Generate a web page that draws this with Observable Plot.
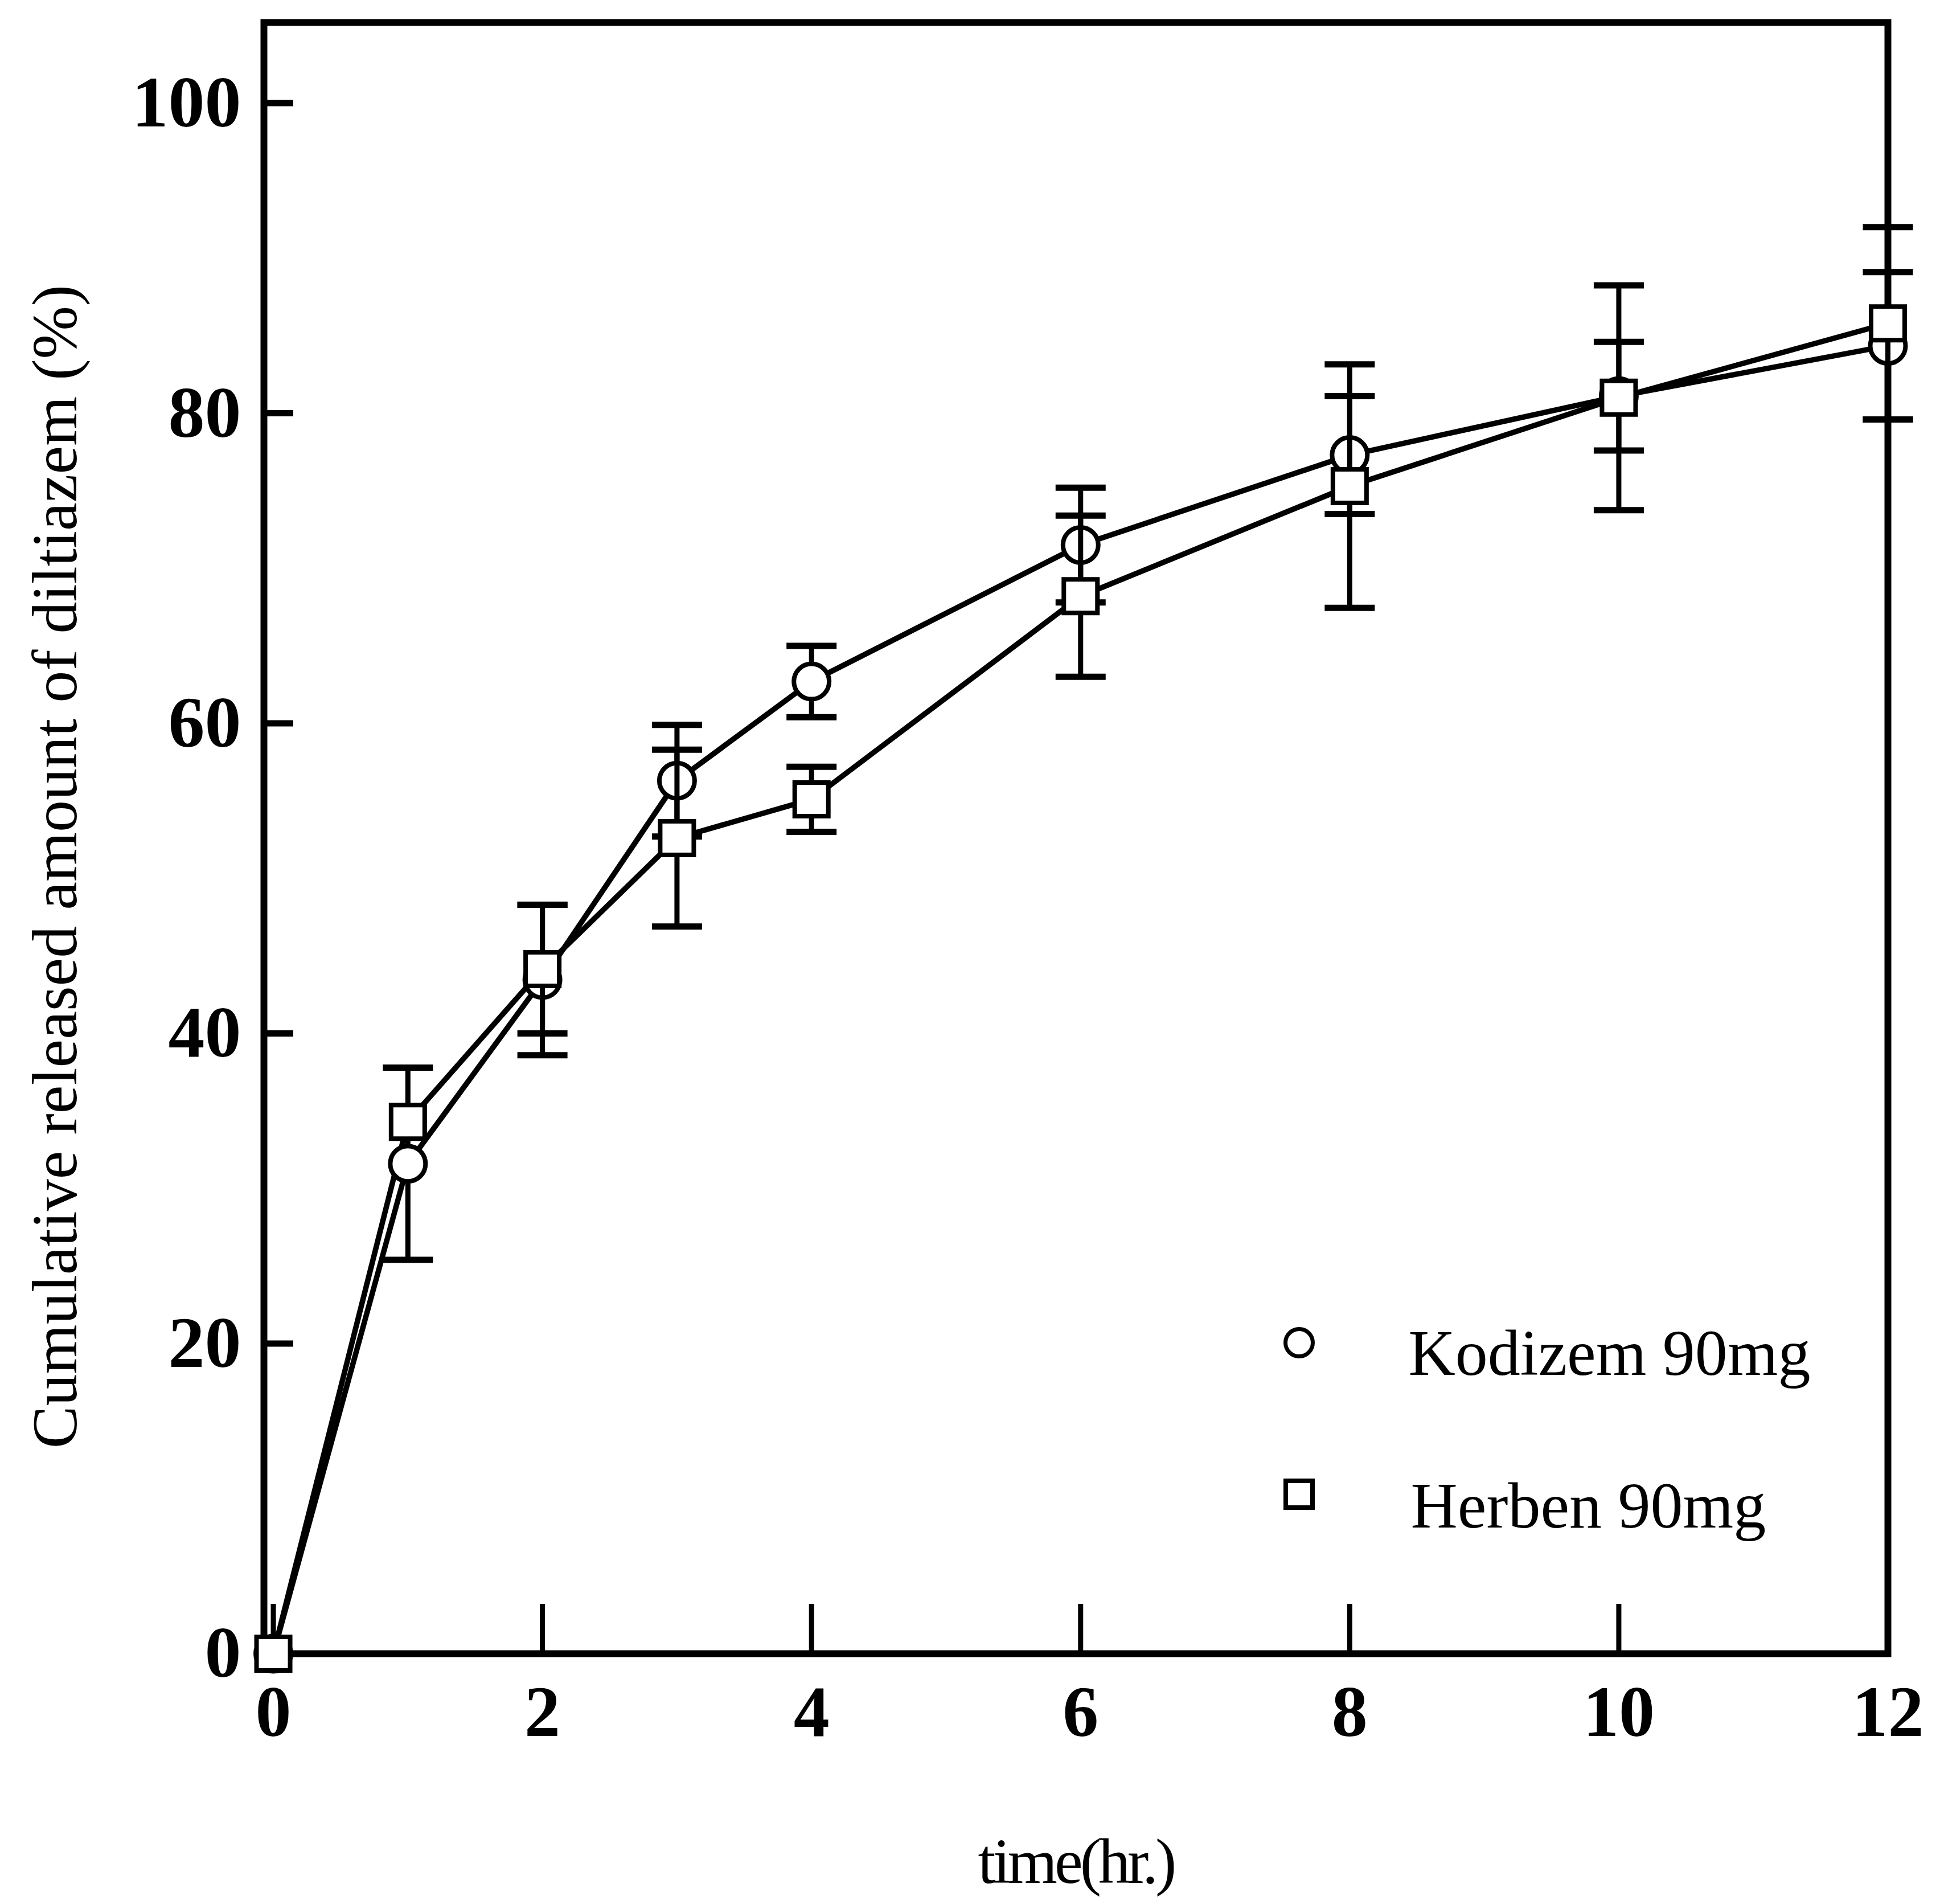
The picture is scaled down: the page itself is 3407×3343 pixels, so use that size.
<!DOCTYPE html>
<html>
<head>
<meta charset="utf-8">
<script src="https://cdn.jsdelivr.net/npm/d3@7"></script>
<script src="https://cdn.jsdelivr.net/npm/@observablehq/plot@0.6"></script>
<style>
  html, body { margin: 0; padding: 0; background: #fff; }
  #chart { width: 3407px; height: 3343px; }
</style>
</head>
<body>
<div id="chart"></div>
<script>
// ---- data ----
const times = [0, 1, 2, 3, 4, 6, 8, 10, 12];
const kodizemMean = [0, 31.6, 43.45, 56.3, 62.7, 71.5, 77.3, 81.1, 84.35];
const kodizemSD   = [0, 6.2, 4.85, 3.6, 2.3, 3.7, 3.8, 3.5, 4.75];
const herbenMean  = [0, 34.3, 44.15, 52.6, 55.1, 68.2, 75.3, 81.0, 85.8];
const herbenSD    = [0, 0, 4.15, 5.7, 2.1, 5.2, 7.85, 7.25, 6.2];
const seriesNames = ["Kodizem 90mg", "Herben 90mg"];
const xTicks = [0, 2, 4, 6, 8, 10, 12];
const yTicks = [0, 20, 40, 60, 80, 100];
const xTitle = "time(hr.)";
const yTitle = "Cumulative released amount of diltiazem (%)";

// ---- build tables ----
const kodizem = times.map((t, i) => ({t, mean: kodizemMean[i], sd: kodizemSD[i]}));
const herben  = times.map((t, i) => ({t, mean: herbenMean[i],  sd: herbenSD[i]}));

const W = 3407, H = 3343, mL = 463, mR = 92, mT = 39, mB = 440;
const frameW = W - mL - mR, frameH = H - mT - mB;
const font = '"Liberation Serif", "Times New Roman", serif';

// horizontal-line symbol for error-bar caps
const capSymbol = {
  draw(ctx, size) {
    const h = Math.sqrt(size / Math.PI);
    ctx.moveTo(-h, 0);
    ctx.lineTo(h, 0);
  }
};

function errorMarks(data) {
  const bars = data.filter(d => d.sd > 0);
  return [
    Plot.ruleX(bars, {x: "t", y1: d => d.mean - d.sd, y2: d => d.mean + d.sd, stroke: "black", strokeWidth: 9}),
    Plot.dot(bars, {x: "t", y: d => d.mean + d.sd, symbol: capSymbol, r: 44, stroke: "black", strokeWidth: 11, fill: "none"}),
    Plot.dot(bars, {x: "t", y: d => d.mean - d.sd, symbol: capSymbol, r: 44, stroke: "black", strokeWidth: 11, fill: "none"})
  ];
}

const chart = Plot.plot({
  width: W,
  height: H,
  marginLeft: mL,
  marginRight: mR,
  marginTop: mT,
  marginBottom: mB,
  style: {fontFamily: font, background: "white", color: "black"},
  x: {domain: [-0.07, 12]},
  y: {domain: [0, 105.2]},
  marks: [
    // tick labels
    Plot.axisY({ticks: yTicks, tickSize: 0, tickPadding: 40, tickFormat: d => String(d),
      fontSize: 128, fontWeight: "bold", fontFamily: font, label: null}),
    Plot.axisX({ticks: xTicks, tickSize: 0, tickPadding: 55, tickFormat: d => String(d),
      fontSize: 126, fontWeight: "bold", fontFamily: font, label: null}),
    // inward ticks
    Plot.tickY(yTicks, {y: d => d, stroke: "black", strokeWidth: 11, insetRight: frameW - 52}),
    Plot.tickX(xTicks, {x: d => d, stroke: "black", strokeWidth: 9, insetTop: frameH - 87}),
    // frame
    Plot.frame({stroke: "black", strokeWidth: 12}),
    // series lines
    Plot.line(kodizem, {x: "t", y: "mean", stroke: "black", strokeWidth: 9.5}),
    Plot.line(herben,  {x: "t", y: "mean", stroke: "black", strokeWidth: 9.5}),
    // Kodizem: bars under circles
    ...errorMarks(kodizem),
    Plot.dot(kodizem, {x: "t", y: "mean", symbol: "circle", r: 31, fill: "white", stroke: "black", strokeWidth: 8}),
    // Herben: bars over circles, squares on top
    ...errorMarks(herben),
    Plot.dot(herben, {x: "t", y: "mean", symbol: "square", r: 33.3, fill: "white", stroke: "black", strokeWidth: 8}),
    // legend
    Plot.dot([seriesNames[0]], {frameAnchor: "top-left", dx: 1818, dy: 2318, symbol: "circle", r: 24, fill: "white", stroke: "black", strokeWidth: 7}),
    Plot.dot([seriesNames[1]], {frameAnchor: "top-left", dx: 1818, dy: 2584, symbol: "square", r: 26.5, fill: "white", stroke: "black", strokeWidth: 8}),
    Plot.text([seriesNames[0]], {text: d => d, frameAnchor: "top-left", dx: 2010, dy: 2338, textAnchor: "start", lineAnchor: "middle", fontSize: 114, fontFamily: font, fill: "black"}),
    Plot.text([seriesNames[1]], {text: d => d, frameAnchor: "top-left", dx: 2014, dy: 2606, textAnchor: "start", lineAnchor: "middle", fontSize: 114, fontFamily: font, fill: "black"}),
    // axis titles
    Plot.text([xTitle], {text: d => d, frameAnchor: "bottom", dy: 367, lineAnchor: "middle", textAnchor: "middle", fontSize: 112, fontFamily: font, fill: "black"}),
    Plot.text([yTitle], {text: d => d, frameAnchor: "left", dx: -365, dy: 50, rotate: -90, lineAnchor: "middle", textAnchor: "middle", fontSize: 112, fontFamily: font, fill: "black"})
  ]
});
// tighten the x title letter spacing (condensed look of the original)
d3.select(chart).selectAll("text")
  .filter(function () { return this.textContent === xTitle; })
  .attr("letter-spacing", "-5");
document.getElementById("chart").appendChild(chart);
</script>
</body>
</html>
